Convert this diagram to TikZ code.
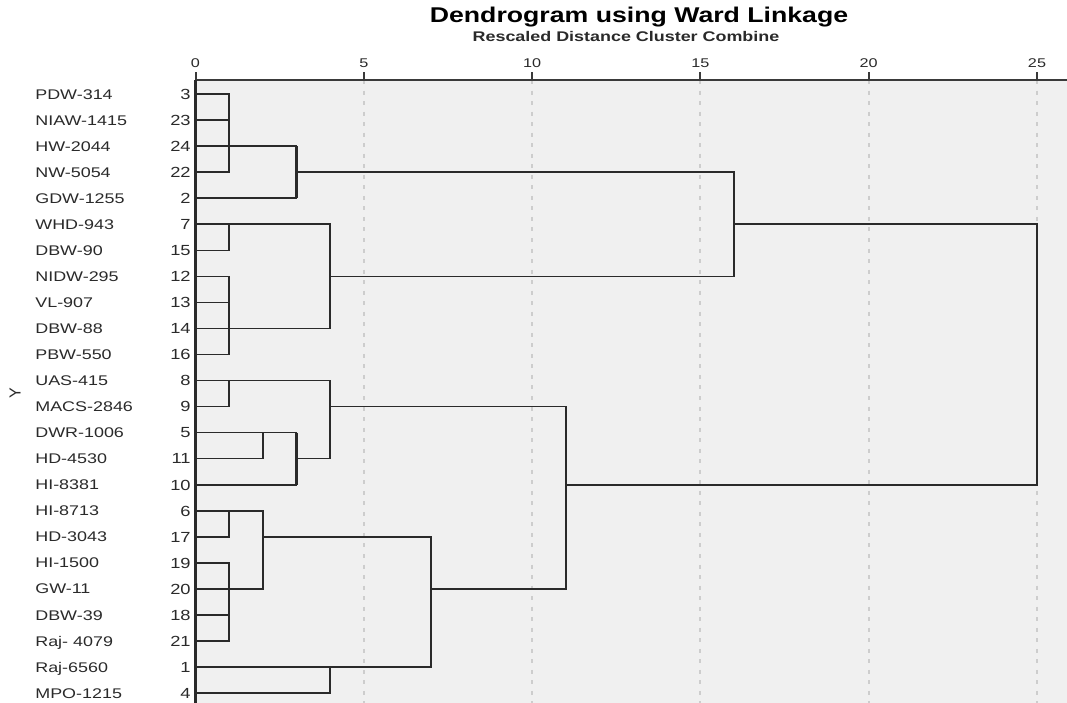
\documentclass[tikz,border=0pt]{standalone}
\usepackage{fontspec}
\setmainfont{Liberation Sans}
\definecolor{bgc}{HTML}{F0F0F0}
\definecolor{gridc}{HTML}{CDCDCD}
\definecolor{linec}{HTML}{2A2A2A}
\definecolor{axc}{HTML}{3A3A3A}
\definecolor{txtc}{HTML}{2A2A2A}
\begin{document}
\begin{tikzpicture}[x=0.75pt,y=-0.75pt,
  gridln/.style={draw=gridc, line width=1.4pt, dash pattern=on 3pt off 4.9pt},
  hl/.style={draw=linec, line width=1.15pt, line cap=rect},
  vl/.style={draw=linec, line width=1.8pt},
  num/.style={anchor=east, inner sep=0pt, text=txtc, font=\fontsize{11}{13}\selectfont, xscale=1.25, text height=7.9pt, text depth=0pt},
  lab/.style={anchor=west, inner sep=0pt, text=txtc, font=\fontsize{10.5}{12}\selectfont, xscale=1.28, text height=7.5pt, text depth=0pt},
  ticklab/.style={inner sep=0pt, text=txtc, font=\fontsize{9.5}{11}\selectfont, xscale=1.28, text height=6.8pt, text depth=0pt},
  titlest/.style={inner sep=0pt, font=\bfseries\fontsize{16}{18}\selectfont, xscale=1.25},
  subst/.style={inner sep=0pt, text=txtc, font=\bfseries\fontsize{10.5}{12}\selectfont, xscale=1.28},
  tickst/.style={draw=axc, line width=1.5pt}]
\useasboundingbox (0,0) rectangle (1067,703);
\fill[white] (0,0) rectangle (1067,703);
\fill[bgc] (195.5,80) rectangle (1067,703);
% axis positions
\foreach \k in {0,...,25} \coordinate (X\k) at ({195.5+33.66*\k},80);
\coordinate (axbot) at (195.5,703);
\coordinate (axright) at (1067,80);
% grid lines
\foreach \k in {5,10,...,25} \draw[gridln] (X\k) -- (X\k |- axbot);
% leaves
\foreach \n/\lab [count=\i from 0] in {3/PDW-314, 23/NIAW-1415, 24/HW-2044, 22/NW-5054, 2/GDW-1255, 7/WHD-943, 15/DBW-90, 12/NIDW-295, 13/VL-907, 14/DBW-88, 16/PBW-550, 8/UAS-415, 9/MACS-2846, 5/DWR-1006, 11/HD-4530, 10/HI-8381, 6/HI-8713, 17/HD-3043, 19/HI-1500, 20/GW-11, 18/DBW-39, 21/Raj- 4079, 1/Raj-6560, 4/MPO-1215}{
  \coordinate (L\n) at (195.5,{94+26.05*\i});
  \node[num] (n\n) at (191,{94+26.05*\i}) {\n};
  \node[lab] (t\n) at (35,{94+26.05*\i}) {\lab};
}
% merge points
\coordinate (A1) at (L24 -| X1);
\coordinate (A2) at (L22 -| X3);
\coordinate (B1) at (L7 -| X1);
\coordinate (B2) at (L14 -| X1);
\coordinate (B3) at (L12 -| X4);
\coordinate (AB) at (L7 -| X16);
\coordinate (C1) at (L8 -| X1);
\coordinate (C2) at (L5 -| X2);
\coordinate (C3) at (L11 -| X3);
\coordinate (C4) at (L9 -| X4);
\coordinate (D1) at (L6 -| X1);
\coordinate (D2) at (L20 -| X1);
\coordinate (D3) at (L17 -| X2);
\coordinate (D4) at (L1 -| X4);
\coordinate (D5) at (L20 -| X7);
\coordinate (CD) at (L10 -| X11);
\coordinate (R) at (L7 -| X25);
% horizontal links
\foreach \m/\c in {A1/L3, A1/L23, A1/L24, A1/L22, A2/A1, A2/L2, B1/L7, B1/L15, B2/L12, B2/L13, B2/L14, B2/L16, B3/B1, B3/B2, AB/A2, AB/B3, C1/L8, C1/L9, C2/L5, C2/L11, C3/C2, C3/L10, C4/C1, C4/C3, D1/L6, D1/L17, D2/L19, D2/L20, D2/L18, D2/L21, D3/D1, D3/D2, D4/L1, D4/L4, D5/D3, D5/D4, CD/C4, CD/D5, R/AB, R/CD}
  \draw[hl] (\c) -- (\c -| \m);
% vertical links
\foreach \m/\a/\b in {A1/L3/L22, A2/A1/L2, B1/L7/L15, B2/L12/L16, B3/B1/B2, AB/A2/B3, C1/L8/L9, C2/L5/L11, C3/C2/L10, C4/C1/C3, D1/L6/L17, D2/L19/L21, D3/D1/D2, D4/L1/L4, D5/D3/D4, CD/C4/D5, R/AB/CD}
  \draw[vl] (\a -| \m) -- (\b -| \m);
% axes
\draw[draw=axc, line width=1.2pt] (X0) -- (axright);
\draw[draw=linec, line width=1.6pt] (X0) -- (axbot);
\foreach \k in {0,5,...,25}{
  \draw[tickst] (X\k) -- ++(0,-8);
  \node[ticklab] (tk\k) at ({195.5+33.66*\k},63) {\k};
}
% titles
\node[titlest] (title) at (639,17) {Dendrogram using Ward Linkage};
\node[subst] (sub) at (626,36) {Rescaled Distance Cluster Combine};
\node[rotate=90, inner sep=0pt, text=txtc, font=\fontsize{12}{14}\selectfont] (ylab) at (15,393) {Y};
\end{tikzpicture}
\end{document}
